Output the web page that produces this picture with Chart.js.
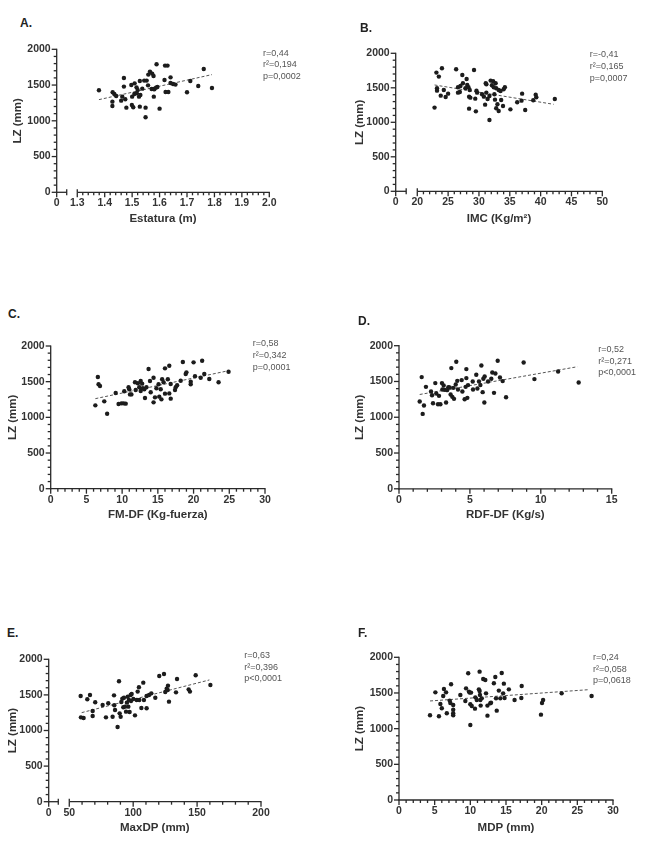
<!DOCTYPE html>
<html><head><meta charset="utf-8">
<script src="https://cdn.jsdelivr.net/npm/chart.js@4.4.1/dist/chart.umd.min.js"></script>
<style>
html,body{margin:0;padding:0;background:#fff;}
body{width:646px;height:846px;position:relative;overflow:hidden;font-family:"Liberation Sans",Arial,sans-serif;}
canvas{position:absolute;}
.lbl{position:absolute;font-weight:bold;font-size:12px;line-height:12px;color:#222;}
.ann{position:absolute;font-size:9px;line-height:11.7px;color:#555;white-space:nowrap;}
</style></head><body>
<script>
// ---------------- DATA ----------------
const yTickValues = [0, 500, 1000, 1500, 2000];
const yTickLabels = ['0', '500', '1000', '1500', '2000'];

// A. Estatura (m) vs LZ (mm)
const estaturaX = [1.379,1.429,1.435,1.428,1.428,1.442,1.470,1.470,1.464,1.475,1.479,1.460,1.497,1.499,1.504,1.500,1.508,1.509,1.516,1.517,1.520,1.525,1.528,1.530,1.528,1.537,1.544,1.549,1.549,1.553,1.558,1.559,1.565,1.571,1.573,1.578,1.577,1.579,1.581,1.589,1.587,1.592,1.600,1.618,1.620,1.629,1.622,1.632,1.640,1.640,1.649,1.658,1.700,1.712,1.741,1.761,1.791];
const estaturaLZ = [1427,1399,1375,1268,1207,1347,1599,1478,1338,1301,1184,1282,1501,1221,1189,1338,1375,1524,1468,1385,1431,1338,1557,1361,1198,1450,1562,1184,1049,1562,1496,1646,1688,1445,1660,1627,1445,1338,1441,1790,1464,1473,1170,1571,1772,1772,1403,1403,1608,1529,1515,1506,1399,1557,1487,1725,1459];
const estaturaTrendX = [1.379, 1.791];
const estaturaTrendY = [1296, 1646];
const estaturaTickValues = [1.3, 1.4, 1.5, 1.6, 1.7, 1.8, 1.9, 2.0];
const estaturaTickLabels = ['0', '1.3', '1.4', '1.5', '1.6', '1.7', '1.8', '1.9', '2.0'];

// B. IMC (Kg/m2) vs LZ
const imcX = [22.8,23.1,23.2,23.2,23.5,24.0,23.8,24.3,24.6,25.0,26.3,26.6,26.6,26.9,27.0,27.3,27.4,27.8,28.0,28.1,28.3,28.4,28.4,28.5,28.6,29.2,29.4,29.5,29.6,29.7,30.5,30.8,31.1,31.2,31.2,31.0,31.4,31.7,31.7,31.9,32.1,32.3,32.4,32.5,32.6,32.7,32.8,32.8,33.0,33.2,33.2,33.5,33.6,33.9,34.0,34.2,35.1,36.2,37.0,36.9,37.5,38.8,39.2,39.3,42.3];
const imcLZ = [1213,1720,1493,1459,1662,1783,1386,1469,1367,1415,1768,1507,1430,1440,1527,1686,1565,1493,1628,1541,1507,1372,1198,1469,1357,1759,1343,1159,1459,1430,1406,1372,1565,1551,1430,1256,1338,1382,1034,1604,1536,1594,1507,1406,1328,1565,1493,1203,1261,1469,1164,1454,1324,1237,1478,1507,1188,1290,1415,1314,1179,1319,1401,1362,1338];
const imcTrendX = [22.8, 42.1];
const imcTrendY = [1541, 1261];
const imcTickValues = [20, 25, 30, 35, 40, 45, 50];
const imcTickLabels = ['0', '20', '25', '30', '35', '40', '45', '50'];

// C. FM-DF (Kg-fuerza) vs LZ
const fmX = [6.25,6.6,6.7,6.9,7.5,7.9,9.1,9.5,9.9,10.2,10.5,10.3,10.9,11.0,11.1,11.3,11.8,11.9,12.2,12.4,12.6,12.6,12.8,12.9,13.1,13.2,13.4,13.7,13.9,14.0,14.4,14.4,14.6,14.8,15.1,15.2,15.4,15.5,15.6,15.8,16.0,16.0,16.4,16.6,16.6,16.8,16.8,17.4,17.5,17.7,18.2,18.5,18.9,19.0,19.6,19.6,20.0,20.2,21.0,21.2,21.5,22.2,23.5,24.9];
const fmLZ = [1168,1565,1463,1439,1224,1051,1341,1187,1196,1196,1192,1365,1421,1393,1322,1322,1491,1383,1477,1421,1510,1369,1472,1407,1393,1271,1421,1678,1510,1351,1556,1210,1280,1407,1463,1290,1393,1252,1533,1491,1687,1332,1533,1724,1336,1262,1467,1383,1421,1449,1514,1776,1608,1631,1463,1500,1771,1575,1556,1794,1608,1537,1491,1640];
const fmTrendX = [6.25, 24.9];
const fmTrendY = [1262, 1654];
const fmTickValues = [0, 5, 10, 15, 20, 25, 30];
const fmTickLabels = ['0', '5', '10', '15', '20', '25', '30'];

// D. RDF-DF (Kg/s) vs LZ
const rdfX = [1.46,1.60,1.67,1.76,1.90,2.26,2.33,2.40,2.56,2.63,2.75,2.82,2.92,3.03,3.06,3.15,3.22,3.32,3.39,3.48,3.57,3.64,3.69,3.76,3.83,3.88,4.00,4.04,4.11,4.16,4.42,4.47,4.63,4.70,4.75,4.75,4.82,4.87,5.20,5.22,5.45,5.53,5.64,5.74,5.81,5.90,5.95,6.02,6.04,6.28,6.51,6.58,6.70,6.80,6.96,7.12,7.31,7.55,8.79,9.55,11.22,12.67];
const rdfLZ = [1220,1561,1047,1164,1425,1360,1308,1196,1477,1332,1182,1299,1182,1477,1388,1444,1383,1206,1379,1421,1416,1318,1687,1285,1411,1257,1458,1776,1509,1388,1519,1360,1252,1425,1673,1547,1271,1449,1500,1388,1594,1402,1500,1449,1724,1351,1538,1206,1570,1500,1538,1626,1341,1612,1790,1556,1505,1280,1766,1533,1640,1486];
const rdfTrendX = [1.46, 12.58];
const rdfTrendY = [1318, 1706];
const rdfTickValues = [0, 5, 10, 15];
const rdfTickLabels = ['0', '5', '10', '15'];

// E. MaxDP (mm) vs LZ
const maxdpX = [58.9,59.1,61.2,64.1,66.2,68.3,68.3,70.3,76.1,78.7,80.5,83.9,85.0,85.2,85.8,88.9,87.8,89.4,90.2,90.7,91.5,92.3,92.8,93.6,94.4,95.1,95.7,96.2,96.7,97.2,98.0,98.3,98.8,100.1,101.4,102.7,103.5,104.5,104.8,106.4,107.9,108.4,110.5,110.5,112.4,114.2,117.3,120.4,124.1,125.1,126.2,127.2,128.0,127.0,134.3,133.5,143.4,144.4,148.9,160.4];
const maxdpLZ = [1485,1185,1176,1438,1499,1274,1204,1396,1358,1185,1382,1194,1494,1354,1288,1691,1049,1241,1194,1401,1447,1326,1461,1335,1265,1391,1475,1335,1429,1260,1499,1415,1513,1443,1213,1429,1546,1607,1429,1316,1672,1429,1312,1485,1499,1522,1461,1766,1794,1541,1588,1630,1405,1569,1724,1536,1578,1546,1775,1639];
const maxdpTrendX = [59.7, 159.6];
const maxdpTrendY = [1251, 1710];
const maxdpTickValues = [50, 100, 150, 200];
const maxdpTickLabels = ['0', '50', '100', '150', '200'];

// F. MDP (mm) vs LZ
const mdpX = [4.35,5.1,5.6,5.8,6.0,6.2,6.3,6.6,6.7,7.1,7.2,7.3,7.6,7.6,7.6,7.6,8.6,9.3,9.4,9.7,9.8,9.9,10.0,10.0,10.1,10.2,10.65,10.7,10.9,11.2,11.3,11.3,11.35,11.4,11.45,11.6,11.8,12.1,12.2,12.4,12.4,12.8,12.9,13.3,13.5,13.6,13.7,14.0,14.2,14.4,14.6,14.7,14.8,15.4,16.2,17.2,17.15,19.9,20.05,20.2,22.8,27.0];
const mdpLZ = [1187,1509,1173,1346,1285,1458,1556,1509,1215,1393,1360,1622,1266,1215,1187,1332,1472,1388,1565,1776,1519,1505,1341,1051,1505,1318,1280,1439,1402,1551,1528,1799,1472,1402,1323,1425,1696,1682,1495,1323,1182,1355,1364,1636,1724,1425,1252,1533,1425,1780,1495,1631,1430,1551,1402,1598,1430,1196,1360,1402,1495,1458];
const mdpTrendX = [4.35, 26.7];
const mdpTrendY = [1388, 1547];
const mdpTickValues = [0, 5, 10, 15, 20, 25, 30];
const mdpTickLabels = ['0', '5', '10', '15', '20', '25', '30'];

// ---------------- PANELS ----------------
const FONT = '"Liberation Sans", Arial, sans-serif';
const panels = [
  {letter:'A.', xs:estaturaX, ys:estaturaLZ, tx:estaturaTrendX, ty:estaturaTrendY, tickValues:estaturaTickValues, tickLabels:estaturaTickLabels,
   xTitle:'Estatura (m)', xMin:1.225, xMax:2.0, breakEnd:1.2615, minor:0.02,
   ann:['r=0,44','r²=0,194','p=0,0002'],
   g:{L:56.7,R:269.3,T:49.3,B:192.3, ytx:18, by:226, lx:20, ly:16.7, ax:263, ay:47.5}},
  {letter:'B.', xs:imcX, ys:imcLZ, tx:imcTrendX, ty:imcTrendY, tickValues:imcTickValues, tickLabels:imcTickLabels,
   xTitle:'IMC (Kg/m²)', xMin:16.5, xMax:50, breakEnd:18.2, minor:1,
   ann:['r=-0,41','r²=0,165','p=0,0007'],
   g:{L:395.7,R:602.3,T:53.3,B:191.3, ytx:360, by:226, lx:360, ly:22.4, ax:589.7, ay:49.2}},
  {letter:'C.', xs:fmX, ys:fmLZ, tx:fmTrendX, ty:fmTrendY, tickValues:fmTickValues, tickLabels:fmTickLabels,
   xTitle:'FM-DF (Kg-fuerza)', xMin:0, xMax:30, breakEnd:null, minor:1,
   ann:['r=0,58','r²=0,342','p=0,0001'],
   g:{L:50.7,R:265,T:346,B:488.7, ytx:13, by:522, lx:8, ly:308.4, ax:252.7, ay:338.2}},
  {letter:'D.', xs:rdfX, ys:rdfLZ, tx:rdfTrendX, ty:rdfTrendY, tickValues:rdfTickValues, tickLabels:rdfTickLabels,
   xTitle:'RDF-DF (Kg/s)', xMin:0, xMax:15, breakEnd:null, minor:1,
   ann:['r=0,52','r²=0,271','p<0,0001'],
   g:{L:399,R:611.7,T:345.7,B:488.3, ytx:360, by:521.5, lx:358, ly:315, ax:598.3, ay:343.8}},
  {letter:'E.', xs:maxdpX, ys:maxdpLZ, tx:maxdpTrendX, ty:maxdpTrendY, tickValues:maxdpTickValues, tickLabels:maxdpTickLabels,
   xTitle:'MaxDP (mm)', xMin:33.9, xMax:200, breakEnd:41.4, minor:10,
   ann:['r=0,63','r²=0,396','p<0,0001'],
   g:{L:48.7,R:261,T:659.3,B:801.7, ytx:12.5, by:835, lx:7, ly:626.7, ax:244.3, ay:649.8}},
  {letter:'F.', xs:mdpX, ys:mdpLZ, tx:mdpTrendX, ty:mdpTrendY, tickValues:mdpTickValues, tickLabels:mdpTickLabels,
   xTitle:'MDP (mm)', xMin:0, xMax:30, breakEnd:null, minor:1,
   ann:['r=0,24','r²=0,058','p=0,0618'],
   g:{L:399,R:613,T:657.3,B:800, ytx:360, by:835, lx:358, ly:626.7, ax:593, ay:651.8}}
];

// Axis lines and tick marks (major + minor, broken x axis)
const axisDecor = {
  id: 'axisDecor',
  afterDatasetsDraw(chart, args, o) {
    const {ctx, chartArea: ca, scales: {x, y}} = chart;
    ctx.save();
    ctx.strokeStyle = '#2a2a2a';
    ctx.lineWidth = 1.3;
    const seg = (x1, y1, x2, y2) => { ctx.beginPath(); ctx.moveTo(x1, y1); ctx.lineTo(x2, y2); ctx.stroke(); };
    // y axis
    seg(ca.left, ca.top - 0.6, ca.left, ca.bottom + 0.6);
    for (let i = 0; i <= 20; i++) {
      const v = i * 100;
      const py = y.getPixelForValue(v);
      seg(ca.left - (v % 500 === 0 ? 5 : 3), py, ca.left, py);
    }
    // x axis
    const xb = ca.bottom;
    let startVal;
    if (o.breakEnd != null) {
      const pB = x.getPixelForValue(o.breakEnd);
      const pS = x.getPixelForValue(o.tickValues[0]);
      seg(ca.left - 0.6, xb, pB, xb);
      seg(pB, xb - 3, pB, xb + 3);
      seg(ca.left, xb, ca.left, xb + 5);
      seg(pS, xb - 3, pS, xb);
      seg(pS, xb, ca.right + 0.6, xb);
      startVal = o.tickValues[0];
    } else {
      seg(ca.left - 0.6, xb, ca.right + 0.6, xb);
      startVal = o.tickValues[0];
    }
    o.tickValues.forEach(v => { const px = x.getPixelForValue(v); seg(px, xb, px, xb + 5); });
    const endVal = o.tickValues[o.tickValues.length - 1];
    const n = Math.round((endVal - startVal) / o.minor);
    for (let i = 1; i < n; i++) {
      const v = startVal + i * o.minor;
      const isMajor = o.tickValues.some(t => Math.abs(t - v) < o.minor * 0.1);
      if (isMajor) continue;
      const px = x.getPixelForValue(v);
      seg(px, xb, px, xb + 3);
    }
    ctx.restore();
  }
};

function makePanel(p) {
  const g = p.g;
  const x0 = Math.round(g.ytx - 6.9);
  const y0 = Math.floor(g.T - 14);
  const right = Math.ceil(g.R + 16);
  const w = right - x0, h = Math.round(g.by - y0);
  const cv = document.createElement('canvas');
  cv.width = w; cv.height = h;
  cv.style.left = x0 + 'px'; cv.style.top = y0 + 'px';
  cv.style.width = w + 'px'; cv.style.height = h + 'px';
  document.body.appendChild(cv);

  const xTickVals = (p.breakEnd != null ? [p.xMin] : []).concat(p.tickValues);
  const tickFont = {family: FONT, size: 10.5, weight: 'bold'};
  const titleFont = {family: FONT, size: 11.5, weight: 'bold'};

  new Chart(cv, {
    type: 'scatter',
    data: {
      datasets: [
        {data: p.xs.map((v, i) => ({x: v, y: p.ys[i]})), pointRadius: 2.2, pointBackgroundColor: '#1c1c1c', pointBorderWidth: 0, pointHoverRadius: 2.2},
        {data: p.tx.map((v, i) => ({x: v, y: p.ty[i]})), showLine: true, pointRadius: 0, borderColor: '#555', borderWidth: 1, borderDash: [3, 2]}
      ]
    },
    plugins: [axisDecor],
    options: {
      responsive: false, animation: false, events: [],
      layout: {padding: {left: 0, top: g.T - y0, right: right - g.R, bottom: 0}},
      plugins: {
        legend: {display: false}, tooltip: {enabled: false},
        axisDecor: {breakEnd: p.breakEnd, tickValues: p.tickValues, minor: p.minor}
      },
      scales: {
        x: {
          type: 'linear', position: 'bottom', min: p.xMin, max: p.xMax,
          afterBuildTicks: s => { s.ticks = xTickVals.map(v => ({value: v})); },
          afterFit: s => { s.height = g.by - g.B; },
          grid: {display: false, drawTicks: false}, border: {display: false},
          ticks: {autoSkip: false, maxRotation: 0, minRotation: 0, padding: 5, font: tickFont, color: '#333',
                  callback: (v, i) => p.tickLabels[i]},
          title: {display: true, text: p.xTitle, font: titleFont, color: '#333', padding: 0}
        },
        y: {
          type: 'linear', position: 'left', min: 0, max: 2000,
          afterBuildTicks: s => { s.ticks = yTickValues.map(v => ({value: v})); },
          afterFit: s => { s.width = g.L - x0; },
          grid: {display: false, drawTicks: false}, border: {display: false},
          ticks: {autoSkip: false, padding: 6, font: tickFont, color: '#333',
                  callback: (v, i) => yTickLabels[i]},
          title: {display: true, text: 'LZ (mm)', font: titleFont, color: '#333', padding: 0}
        }
      }
    }
  });

  const L = document.createElement('div');
  L.className = 'lbl'; L.textContent = p.letter;
  L.style.left = g.lx + 'px'; L.style.top = g.ly + 'px';
  document.body.appendChild(L);

  const A = document.createElement('div');
  A.className = 'ann';
  A.style.left = g.ax + 'px'; A.style.top = g.ay + 'px';
  A.innerHTML = p.ann.join('<br>');
  document.body.appendChild(A);
}

panels.forEach(makePanel);
</script>
</body></html>
